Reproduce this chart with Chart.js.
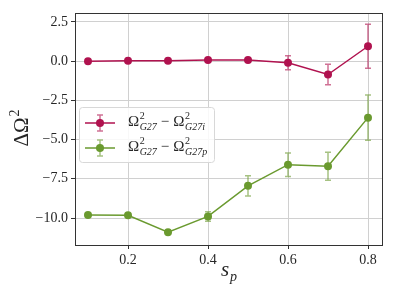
<!DOCTYPE html>
<html>
<head>
<meta charset="utf-8">
<script src="https://cdn.jsdelivr.net/npm/chart.js@4"></script>
<style>
  body { margin: 0; background: #fff; }
  #wrap { width: 395px; height: 296px; }
</style>
</head>
<body>
<div id="wrap"><canvas id="myChart" width="395" height="296"></canvas></div>
<script>
// data
const sp = [0.1, 0.2, 0.3, 0.4, 0.5, 0.6, 0.7, 0.8];
const diffI = [0.0, 0.02, 0.02, 0.07, 0.07, -0.1, -0.85, 0.95];
const errI = [0.04, 0.04, 0.04, 0.05, 0.06, 0.45, 0.65, 1.4];
const diffP = [-9.8, -9.82, -10.9, -9.9, -7.95, -6.6, -6.7, -3.6];
const errP = [0.08, 0.08, 0.08, 0.3, 0.65, 0.75, 0.9, 1.45];
const yTicks = [2.5, 0, -2.5, -5, -7.5, -10];
const xTicks = [0.2, 0.4, 0.6, 0.8];

const red = "#b0124f";
const green = "#6a9a2f";
const serif = "'Liberation Serif', 'DejaVu Serif', serif";

function pts(ys){
  let out = [];
  for(let i=0;i<sp.length;i++) out.push({x: sp[i], y: ys[i]});
  return out;
}
function fmt(v){
  let s = Math.abs(v).toFixed(1);
  return v < 0 ? "\u2212" + s : s;
}

// draws the vertical error bars from the scales
const errorBars = {
  id: "errorBars",
  afterDatasetsDraw(chart){
    const ctx = chart.ctx, xs = chart.scales.x, ys = chart.scales.y;
    const sets = [[diffI, errI, red], [diffP, errP, green]];
    ctx.save();
    for(const [vals, errs, col] of sets){
      ctx.strokeStyle = col;
      ctx.globalAlpha = 0.6;
      ctx.lineWidth = 1.5;
      for(let i=0;i<sp.length;i++){
        let px = xs.getPixelForValue(sp[i]);
        let y1 = ys.getPixelForValue(vals[i] + errs[i]);
        let y2 = ys.getPixelForValue(vals[i] - errs[i]);
        ctx.beginPath();
        ctx.moveTo(px, y1); ctx.lineTo(px, y2);
        ctx.moveTo(px-3, y1); ctx.lineTo(px+3, y1);
        ctx.moveTo(px-3, y2); ctx.lineTo(px+3, y2);
        ctx.stroke();
      }
    }
    ctx.restore();
  }
};

function drawOmega(ctx, x, y, sub){
  ctx.font = "15px " + serif;
  ctx.fillText("\u03A9", x, y);
  let w = ctx.measureText("\u03A9").width;
  ctx.font = "10px " + serif;
  ctx.fillText("2", x + w + 0.5, y - 7);
  ctx.font = "italic 10px " + serif;
  ctx.fillText(sub, x + w + 0.5, y + 4);
  return x + w + 0.5 + ctx.measureText(sub).width;
}

// frame, legend and axis titles
const extras = {
  id: "extras",
  afterDraw(chart){
    const ctx = chart.ctx, a = chart.chartArea;
    ctx.save();
    ctx.strokeStyle = "#333";
    ctx.lineWidth = 1;
    ctx.strokeRect(Math.round(a.left) + 0.5, Math.round(a.top) + 0.5,
      Math.round(a.right - a.left), Math.round(a.bottom - a.top));
    // legend box
    let bx = 79.5, by = 107.5, bw = 135, bh = 55, r = 3;
    ctx.globalAlpha = 0.85;
    ctx.fillStyle = "#fff";
    ctx.beginPath();
    ctx.roundRect(bx, by, bw, bh, r);
    ctx.fill();
    ctx.globalAlpha = 1;
    ctx.strokeStyle = "#d8d8d8";
    ctx.lineWidth = 1;
    ctx.stroke();
    const rows = [[red, "G27i", 123], [green, "G27p", 148]];
    for(const [col, sub, cy] of rows){
      ctx.strokeStyle = col;
      ctx.lineWidth = 1.5;
      ctx.beginPath(); ctx.moveTo(85, cy); ctx.lineTo(115, cy); ctx.stroke();
      ctx.globalAlpha = 0.6;
      ctx.beginPath();
      ctx.moveTo(100, cy-8); ctx.lineTo(100, cy+8);
      ctx.moveTo(97, cy-8); ctx.lineTo(103, cy-8);
      ctx.moveTo(97, cy+8); ctx.lineTo(103, cy+8);
      ctx.stroke();
      ctx.globalAlpha = 1;
      ctx.fillStyle = col;
      ctx.beginPath(); ctx.arc(100, cy, 4, 0, Math.PI*2); ctx.fill();
      ctx.fillStyle = "#262626";
      ctx.textBaseline = "alphabetic";
      let x = drawOmega(ctx, 128, cy + 3, "G27");
      ctx.font = "15px " + serif;
      ctx.fillText("\u2212", x + 4, cy + 3);
      x += 4 + ctx.measureText("\u2212").width + 4;
      drawOmega(ctx, x, cy + 3, sub);
    }
    // x title
    ctx.fillStyle = "#262626";
    ctx.font = "italic 21px " + serif;
    ctx.fillText("s", 221, 276);
    ctx.font = "italic 14px " + serif;
    ctx.fillText("p", 230, 281);
    // y title
    ctx.translate(28, 128);
    ctx.rotate(-Math.PI/2);
    ctx.font = "21px " + serif;
    ctx.textAlign = "center";
    ctx.fillText("\u0394\u03A9", -4, 0);
    let w = ctx.measureText("\u0394\u03A9").width;
    ctx.font = "14px " + serif;
    ctx.textAlign = "left";
    ctx.fillText("2", -4 + w/2 + 1, -9);
    ctx.restore();
  }
};

let ch = document.getElementById("myChart");
new Chart(ch, {
  type: "line",
  data: {
    datasets: [{
      data: pts(diffI),
      borderColor: red,
      backgroundColor: red,
      borderWidth: 1.5,
      pointRadius: 4,
      pointBorderWidth: 0,
      pointHoverRadius: 4,
      tension: 0
    }, {
      data: pts(diffP),
      borderColor: green,
      backgroundColor: green,
      borderWidth: 1.5,
      pointRadius: 4,
      pointBorderWidth: 0,
      pointHoverRadius: 4,
      tension: 0
    }]
  },
  options: {
    responsive: false,
    animation: false,
    layout: { padding: { top: 13, right: 13, left: 0, bottom: 0 } },
    plugins: { legend: { display: false }, tooltip: { enabled: false } },
    scales: {
      x: {
        type: "linear",
        min: 0.0675, max: 0.835,
        afterBuildTicks(axis){ axis.ticks = xTicks.map(v => ({value: v})); },
        afterFit(axis){ axis.height = 51; },
        ticks: {
          callback: v => v.toFixed(1),
          font: { family: serif, size: 14 },
          color: "#262626",
          padding: 3,
          maxRotation: 0
        },
        grid: { color: "#d0d0d0", lineWidth: 1, tickLength: 4, tickColor: "#333" },
        border: { color: "#333", width: 1 }
      },
      y: {
        min: -11.72, max: 3.07,
        afterBuildTicks(axis){ axis.ticks = yTicks.map(v => ({value: v})); },
        afterFit(axis){ axis.width = 75; },
        ticks: {
          callback: v => fmt(v),
          font: { family: serif, size: 14 },
          color: "#262626",
          padding: 3
        },
        grid: { color: "#d0d0d0", lineWidth: 1, tickLength: 4, tickColor: "#333" },
        border: { color: "#333", width: 1 }
      }
    }
  },
  plugins: [errorBars, extras]
});
</script>
</body>
</html>
